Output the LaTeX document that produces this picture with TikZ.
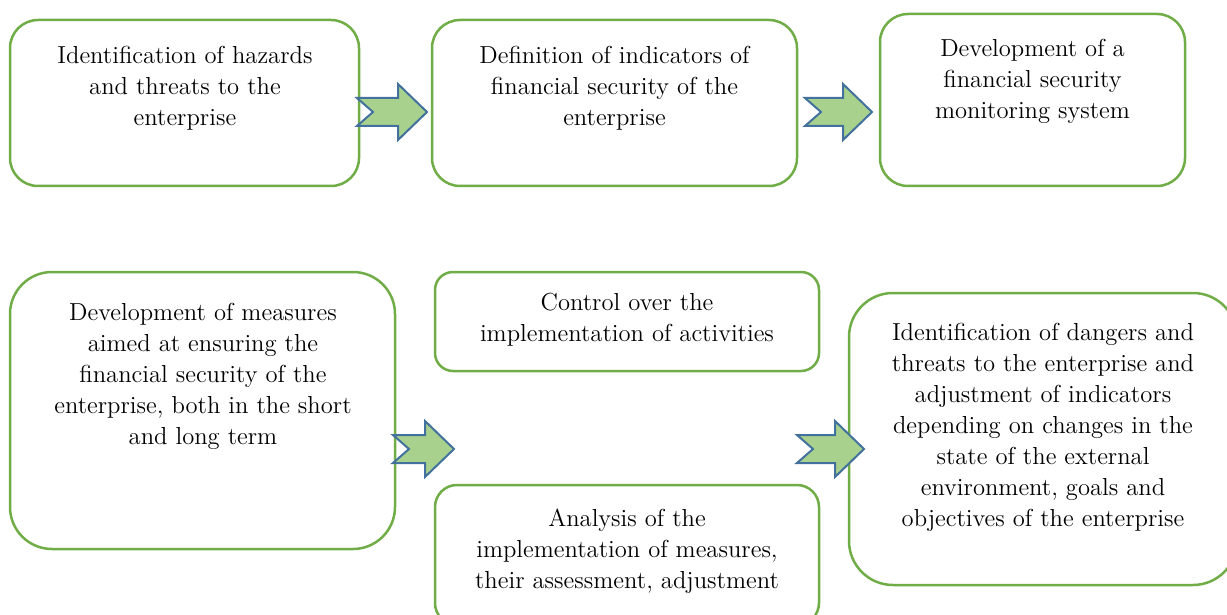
\documentclass[tikz,border=0pt]{standalone}
\definecolor{boxgreen}{HTML}{70AD47}
\definecolor{arrowfill}{HTML}{A9D18E}
\definecolor{arrowline}{HTML}{41719C}
\newcommand{\blockarrow}[7]{% tail, notch, headbase, tip, cy, shaft half, head half
  \filldraw[barrow] (#1,#5-#6) -- (#3,#5-#6) -- (#3,#5-#7) -- (#4,#5) -- (#3,#5+#7)
    -- (#3,#5+#6) -- (#1,#5+#6) -- (#2,#5) -- cycle;}
\begin{document}
\begin{tikzpicture}[x=0.5pt,y=-0.5pt,
  box/.style={draw=boxgreen, line width=1.25pt, fill=white, rectangle, inner sep=0pt},
  txt/.style={anchor=north, align=center, inner sep=0pt, font=\fontsize{12.3pt}{15.5pt}\selectfont},
  barrow/.style={fill=arrowfill, draw=arrowline, line width=1pt, line join=miter}]
\useasboundingbox (0,0) rectangle (1227,615);
\clip (0,0) rectangle (1227,615);
% boxes
\node[box, minimum width=174.5pt, minimum height=83pt, rounded corners=14pt] (b1) at (184.5,103) {};
\node[box, minimum width=182.5pt, minimum height=83pt, rounded corners=14pt] (b2) at (614.5,103) {};
\node[box, minimum width=152.5pt, minimum height=86pt, rounded corners=14pt] (b3) at (1032.5,100) {};
\node[box, minimum width=192.5pt, minimum height=138.5pt, rounded corners=21pt] (b4) at (202.5,410.5) {};
\node[box, minimum width=192pt, minimum height=49.5pt, rounded corners=9pt] (b5) at (627,321.5) {};
\node[box, minimum width=192pt, minimum height=70pt, rounded corners=11pt] (b6) at (627,555) {};
\node[box, minimum width=194pt, minimum height=146pt, rounded corners=22pt] (b7) at (1043,439) {};
% texts
\node[txt] (t1) at (185,46) {Identification of hazards\\and threats to the\\enterprise};
\node[txt] (t2) at (614.5,46) {Definition of indicators of\\financial security of the\\enterprise};
\node[txt] (t3) at (1032.5,39) {Development of a\\financial security\\monitoring system};
\node[txt] (t4) at (203,303) {Development of measures\\aimed at ensuring the\\financial security of the\\enterprise, both in the short\\and long term};
\node[txt] (t5) at (627,293) {Control over the\\implementation of activities};
\node[txt] (t6) at (627,509) {Analysis of the\\implementation of measures,\\their assessment, adjustment};
\node[txt] (t7) at (1043,323) {Identification of dangers and\\threats to the enterprise and\\adjustment of indicators\\depending on changes in the\\state of the external\\environment, goals and\\objectives of the enterprise};
% block arrows
\blockarrow{357}{373}{398}{427}{112}{14}{28}
\blockarrow{805}{821}{843}{872}{112}{14}{28}
\blockarrow{393}{409}{425}{454}{449}{14}{28}
\blockarrow{797}{813}{835}{864}{449}{14}{28}
\end{tikzpicture}
\end{document}
